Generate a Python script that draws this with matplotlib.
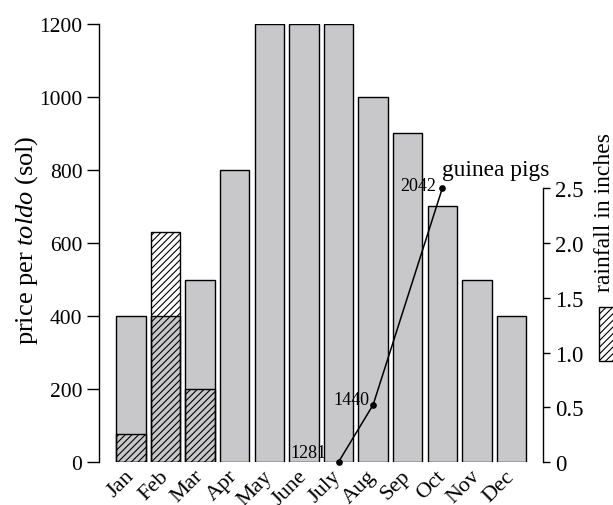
import matplotlib
matplotlib.use("Agg")
import matplotlib.pyplot as plt
from matplotlib.patches import Rectangle
import numpy as np

plt.rcParams['font.family'] = ['Liberation Serif', 'DejaVu Serif']
plt.rcParams['mathtext.fontset'] = 'custom'
plt.rcParams['mathtext.rm'] = 'Liberation Serif'
plt.rcParams['mathtext.it'] = 'Liberation Serif:italic'
plt.rcParams['hatch.linewidth'] = 0.8

months = ['Jan', 'Feb', 'Mar', 'Apr', 'May', 'June', 'July', 'Aug', 'Sep',
          'Oct', 'Nov', 'Dec']
price = [400, 400, 500, 800, 1200, 1200, 1200, 1000, 900, 700, 500, 400]

# rainfall only recorded for the first three months
rain_months = [0, 1, 2]
rainfall = [0.26, 2.1, 0.67]

# guinea pig counts
gp_months = [6, 7, 9]
guinea_pigs = [1281, 1440, 2042]

W, H = 613, 506
fig = plt.figure(figsize=(W / 100, H / 100), dpi=100)
ax = fig.add_axes([99 / W, 1 - 463 / H, 444 / W, 438 / H])

x = np.arange(len(months))
ax.bar(x, price, width=0.85, color='#c8c8ca', edgecolor='black',
       linewidth=1.0, zorder=2)
ax.set_xlim(-0.923, 11.91)
ax.set_ylim(0, 1200)
ax.set_yticks(range(0, 1201, 200))
ax.tick_params(axis='y', labelsize=15.5, length=9, width=1.0, pad=3)
ax.set_xticks(x)
ax.set_xticklabels(months, rotation=45, ha='right', va='center',
                   rotation_mode='anchor', fontsize=16)
ax.tick_params(axis='x', length=0, pad=8)
for s in ['top', 'right', 'bottom']:
    ax.spines[s].set_visible(False)
ax.spines['left'].set_linewidth(1.0)
ax.set_ylabel(r'price per $\mathit{toldo}$ (sol)', fontsize=19)
ax.yaxis.set_label_coords(-0.133, 0.509)

# rainfall on the right-hand scale
ax2 = ax.twinx()
ax2.set_ylim(0, 4.0)
ax2.bar(rain_months, rainfall, width=0.85, facecolor='none',
        edgecolor='black', hatch='/////', linewidth=1.0, zorder=3)
ax2.set_yticks([0, 0.5, 1.0, 1.5, 2.0, 2.5])
ax2.set_yticklabels(['0', '0.5', '1.0', '1.5', '2.0', '2.5'])
ax2.tick_params(axis='y', labelsize=16.5, length=5, width=1.0, pad=4)
for s in ['top', 'left', 'bottom']:
    ax2.spines[s].set_visible(False)
ax2.spines['right'].set_bounds(0, 2.5)
ax2.spines['right'].set_linewidth(1.0)

# guinea pigs on their own scale, top point level with 2.5 in
ax3 = ax.twinx()
gp_top = guinea_pigs[0] + (guinea_pigs[-1] - guinea_pigs[0]) * 4.0 / 2.5
ax3.set_ylim(guinea_pigs[0], gp_top)
ax3.set_axis_off()
ax3.plot(gp_months, guinea_pigs, color='black', linewidth=1.1,
         marker='o', markersize=3.8, clip_on=False, zorder=4)
offsets = [(-8.6, 6.5), (-2.9, 4.1), (-4.3, 2.2)]
for m, v, off in zip(gp_months, guinea_pigs, offsets):
    ax3.annotate(str(v), (m, v), xytext=off, textcoords='offset points',
                 ha='right', va='center', fontsize=13)
ax3.annotate('guinea pigs', (gp_months[-1], guinea_pigs[-1]), xytext=(0, 6),
             textcoords='offset points', ha='left', va='bottom', fontsize=16.8)

# rainfall key at the right edge
fig.text(605 / W, 1 - 212 / H, 'rainfall in inches', rotation=90,
         ha='center', va='center', fontsize=17)
fig.patches.append(Rectangle((599 / W, 1 - 362 / H), 17 / W, 54 / H,
                             transform=fig.transFigure, facecolor='white',
                             edgecolor='black', hatch='/////', linewidth=1.0))

fig.savefig('out.png', dpi=100)
